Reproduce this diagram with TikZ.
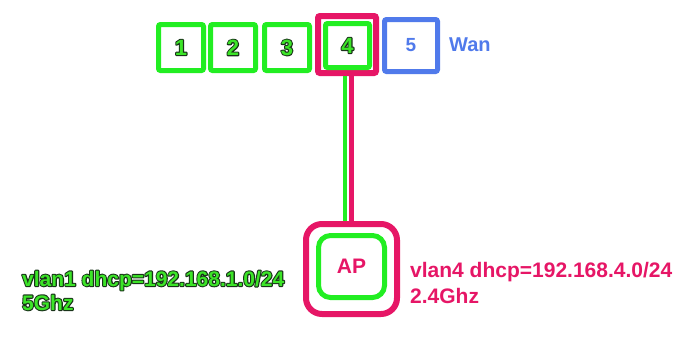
\documentclass[tikz,border=0pt]{standalone}
\usepackage{fontspec}
\setmainfont{Liberation Sans}
\definecolor{gr}{RGB}{34,238,34}
\definecolor{grt}{RGB}{60,228,40}
\definecolor{rd}{RGB}{230,22,102}
\definecolor{bl}{RGB}{80,122,235}
\newcommand\olt[1]{\leavevmode\rlap{\color{grt}\special{pdf:literal direct 1 Tr 2.2 w 1 J 1 j 0.1 0.2 0.1 RG}#1\special{pdf:literal direct 0 Tr}}{\color{grt}#1}}
\tikzset{
  port/.style={draw=gr, line width=5pt, rounded corners=2pt, minimum width=45pt, minimum height=46pt, inner sep=0pt, font=\bfseries\fontsize{22}{26}\selectfont},
  redbox/.style={draw=rd, line width=6pt, rounded corners=2pt, inner sep=0pt},
  wanbox/.style={draw=bl, line width=5pt, rounded corners=2pt, inner sep=0pt, minimum width=53pt, minimum height=52pt, text=bl, font=\bfseries\fontsize{19}{23}\selectfont},
  lbl/.style={inner sep=0pt, font=\bfseries\fontsize{21}{25}\selectfont},
  glink/.style={draw=gr, line width=4pt},
  rlink/.style={draw=rd, line width=5pt},
}
\begin{document}
\begin{tikzpicture}[x=1pt,y=-1pt]
\useasboundingbox (0,0) rectangle (699,338);
% ports
\node[port] (p1) at (181,47.5) {\olt{1}};
\node[port] (p2) at (233,47.5) {\olt{2}};
\node[port] (p3) at (287,47.5) {\olt{3}};
\node[redbox, minimum width=58pt, minimum height=57pt] (p4o) at (347,44.5) {};
\node[port, minimum width=44pt, minimum height=44pt] (p4) at (347.5,45.5) {\olt{4}};
\node[wanbox] (p5) at (411,45.5) {5};
\node[lbl, text=bl, font=\bfseries\fontsize{20}{24}\selectfont, anchor=west] (wan) at (449,45) {Wan};
% AP
\node[draw=rd, line width=6pt, rounded corners=16pt, minimum width=91pt, minimum height=90pt, inner sep=0pt] (apo) at (351.5,269) {};
\node[draw=gr, line width=5pt, rounded corners=12pt, minimum width=66pt, minimum height=62pt, inner sep=0pt, text=rd, font=\bfseries\fontsize{21}{25}\selectfont] (ap) at (351.5,266.5) {AP};
% links
\draw[glink] ([xshift=-2pt]p4o.south) -- ([xshift=-2pt]p4o.south |- apo.north);
\draw[rlink] ([xshift=4.5pt]p4o.south) -- ([xshift=4.5pt]p4o.south |- apo.north);
% labels
\node[lbl, anchor=base west] (l1) at (22,286) {\olt{vlan1 dhcp=192.168.1.0/24}};
\node[lbl, anchor=base west] (l2) at (22,310) {\olt{5Ghz}};
\node[lbl, text=rd, anchor=base west] (r1) at (410,277) {vlan4 dhcp=192.168.4.0/24};
\node[lbl, text=rd, anchor=base west] (r2) at (410,303) {2.4Ghz};
\end{tikzpicture}
\end{document}
